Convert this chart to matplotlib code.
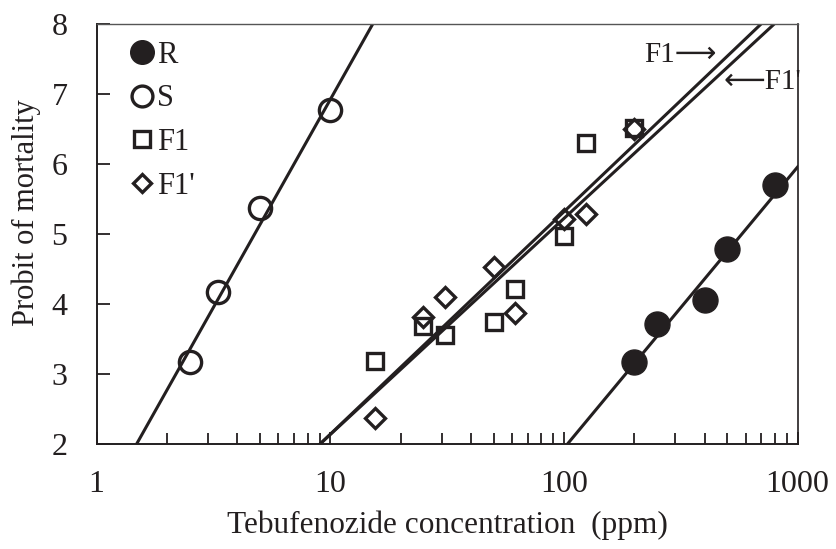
import numpy as np
import matplotlib
matplotlib.use("Agg")
import matplotlib.pyplot as plt
from matplotlib.lines import Line2D

plt.rcParams['font.family'] = ['Liberation Serif', 'DejaVu Sans']

# ---- data ----
R_x = [200, 250, 400, 500, 800]
R_y = [3.17, 3.72, 4.06, 4.78, 5.70]
S_x = [2.5, 3.3, 5, 10]
S_y = [3.17, 4.17, 5.37, 6.77]
F1_x = [15.5, 25, 31, 50, 62, 100, 124, 200]
F1_y = [3.19, 3.69, 3.56, 3.75, 4.21, 4.97, 6.30, 6.51]
F1p_x = [15.5, 25, 31, 50, 62, 100, 124, 200]
F1p_y = [2.37, 3.82, 4.10, 4.53, 3.87, 5.22, 5.28, 6.50]

# regression lines: probit = a + b*log10(x)
R_line = (-6.10, 4.02)
S_line = (0.984, 5.94)
F1_line = (-1.04, 3.18)
F1p_line = (-0.952, 3.088)

xticks = [1, 10, 100, 1000]
xticklabels = ['1', '10', '100', '1000']
yticks = [2, 3, 4, 5, 6, 7, 8]

ink = '#231f20'

fig = plt.figure(figsize=(8.37, 5.49), dpi=100)
ax = fig.add_axes([0.1155, 0.1913, 0.953 - 0.1155, 0.956 - 0.1913])
ax.set_xscale('log')
ax.set_xlim(1, 1000)
ax.set_ylim(2, 8)

xx = np.logspace(0, 3, 400)
for a, b in (S_line, R_line, F1_line, F1p_line):
    ax.plot(xx, a + b * np.log10(xx), color=ink, lw=2.2, zorder=2)

ax.plot(R_x, R_y, 'o', ms=18, color=ink, mec=ink, zorder=3)
ax.plot(S_x, S_y, 'o', ms=16, mfc='none', mec=ink, mew=2.4, zorder=3)
ax.plot(F1_x, F1_y, 's', ms=12, mfc='none', mec=ink, mew=2.4, zorder=3)
ax.plot(F1p_x, F1p_y, 'D', ms=10.5, mfc='none', mec=ink, mew=2.4, zorder=3)

ax.text(0.885, 0.926, 'F1\u27f6', transform=ax.transAxes, fontsize=21,
        ha='right', va='center', color=ink)
ax.text(0.894, 0.862, '\u27f5F1\'', transform=ax.transAxes, fontsize=21,
        ha='left', va='center', color=ink)

handles = [
    Line2D([], [], ls='none', marker='o', ms=17, color=ink),
    Line2D([], [], ls='none', marker='o', ms=15, mfc='none', mec=ink, mew=2.4),
    Line2D([], [], ls='none', marker='s', ms=11, mfc='none', mec=ink, mew=2.4),
    Line2D([], [], ls='none', marker='D', ms=9.5, mfc='none', mec=ink, mew=2.4),
]
leg = ax.legend(handles, ['R', 'S', 'F1', "F1'"], loc='upper left',
                frameon=False, fontsize=22, handlelength=0.9,
                handletextpad=0.05, labelspacing=0.48,
                borderaxespad=0.0, bbox_to_anchor=(0.027, 0.99))
for t in leg.get_texts():
    t.set_color(ink)

ax.set_xticks(xticks)
ax.set_xticklabels(xticklabels)
ax.xaxis.set_minor_locator(matplotlib.ticker.LogLocator(base=10, subs=np.arange(2, 10)))
ax.xaxis.set_minor_formatter(matplotlib.ticker.NullFormatter())
ax.set_yticks(yticks)

ax.tick_params(axis='both', which='major', direction='in', length=9, width=1.3,
               labelsize=23, pad=19, colors=ink)
ax.tick_params(axis='x', which='minor', direction='in', length=8, width=1.3, colors=ink)
ax.tick_params(axis='y', pad=21)

for s in ax.spines.values():
    s.set_linewidth(1.4)
    s.set_color(ink)
ax.spines['top'].set_linewidth(1.0)
ax.spines['top'].set_color('#555555')
ax.spines['right'].set_linewidth(1.2)

ax.set_xlabel('Tebufenozide concentration  (ppm)', fontsize=22.5, color=ink, labelpad=8)
ax.set_ylabel('Probit of mortality', fontsize=22, color=ink)
ax.yaxis.set_label_coords(-0.08, 0.55)

fig.savefig('out.png', dpi=100)
